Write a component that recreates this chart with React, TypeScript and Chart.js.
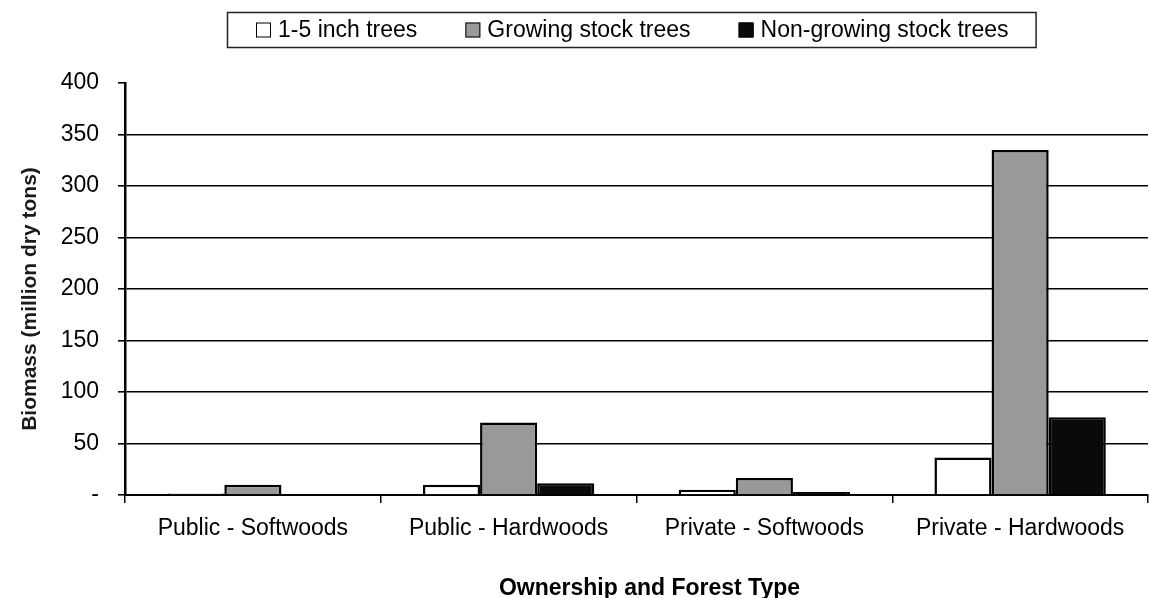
import React, { useEffect, useRef } from "react";
import { Chart, registerables } from "chart.js";

Chart.register(...registerables);

// Biomass by ownership and forest type, million dry tons
const categories = [
  "Public - Softwoods",
  "Public - Hardwoods",
  "Private - Softwoods",
  "Private - Hardwoods",
];
const seriesNames = ["1-5 inch trees", "Growing stock trees", "Non-growing stock trees"];
const smallTrees = [1.5, 10, 5, 36.5];
const growingStock = [10, 70.5, 16.5, 335];
const nonGrowingStock = [0.3, 11.5, 3, 75.5];
const seriesFills = ["#ffffff", "#999999", "#0a0a08"];

const yMin = 0;
const yMax = 400;
const yStep = 50;
const yTitle = "Biomass (million dry tons)";
const xTitle = "Ownership and Forest Type";

const FONT = "Arial, 'Liberation Sans', sans-serif";

// Boxed legend across the top plus both axis titles
const decorations = {
  id: "decorations",
  afterDraw(chart: any) {
    const { ctx, chartArea } = chart;
    ctx.save();

    // legend
    ctx.font = `23px ${FONT}`;
    const sq = 15;
    const gap = 7;
    const spacing = 48;
    const padL = 29;
    const padR = 27;
    const items = chart.data.datasets.map((ds: any) => ({
      label: ds.label as string,
      fill: ds.backgroundColor as string,
    }));
    const widths = items.map((it: any) => ctx.measureText(it.label).width);
    const contentW =
      widths.reduce((a: number, w: number) => a + sq + gap + w, 0) + spacing * (items.length - 1);
    const boxW = contentW + padL + padR;
    const cx = (chartArea.left + chartArea.right) / 2 - 5;
    const boxL = Math.round(cx - boxW / 2);
    const boxT = 12;
    const boxH = 35;
    ctx.fillStyle = "#ffffff";
    ctx.fillRect(boxL, boxT, boxW, boxH);
    ctx.strokeStyle = "#222222";
    ctx.lineWidth = 1.5;
    ctx.strokeRect(boxL + 0.5, boxT + 0.5, boxW, boxH);
    const midY = boxT + boxH / 2 + 0.5;
    let x = boxL + padL;
    items.forEach((it: any, i: number) => {
      ctx.fillStyle = it.fill;
      ctx.fillRect(x, midY - sq / 2, sq, sq);
      ctx.strokeStyle = "#000000";
      ctx.lineWidth = 1;
      ctx.strokeRect(x + 0.5, midY - sq / 2 + 0.5, sq - 1, sq - 1);
      x += sq + gap;
      ctx.fillStyle = "#000000";
      ctx.textAlign = "left";
      ctx.textBaseline = "middle";
      ctx.fillText(it.label, x, midY + 1);
      x += widths[i] + spacing;
    });

    // y axis title (rotated, slightly soft)
    ctx.save();
    ctx.translate(36, (chartArea.top + chartArea.bottom) / 2 + 10);
    ctx.rotate(-Math.PI / 2);
    ctx.font = `bold 21px ${FONT}`;
    ctx.textAlign = "center";
    ctx.textBaseline = "alphabetic";
    ctx.fillStyle = "#1a1a1a";
    ctx.filter = "blur(0.6px)";
    ctx.fillText(yTitle, 0, 0);
    ctx.restore();

    // x axis title
    ctx.font = `bold 23px ${FONT}`;
    ctx.textAlign = "center";
    ctx.textBaseline = "alphabetic";
    ctx.fillStyle = "#000000";
    ctx.fillText(xTitle, (chartArea.left + chartArea.right) / 2 + 13, 595);

    ctx.restore();
  },
};

export default function App() {
  const canvasRef = useRef<HTMLCanvasElement | null>(null);

  useEffect(() => {
    const canvas = canvasRef.current;
    if (!canvas) return;
    const series = [smallTrees, growingStock, nonGrowingStock];
    const chart = new Chart(canvas, {
      type: "bar",
      data: {
        labels: categories,
        datasets: series.map((values, i) => ({
          label: seriesNames[i],
          data: values,
          backgroundColor: seriesFills[i],
          borderColor: "#000000",
          borderWidth: 2.5,
          categoryPercentage: 0.67,
          barPercentage: 1,
        })),
      },
      options: {
        responsive: false,
        animation: false,
        devicePixelRatio: 1,
        layout: { padding: { top: 83, right: 1, bottom: 0, left: 0 } },
        plugins: {
          legend: { display: false },
          title: { display: false },
          tooltip: { enabled: false },
        },
        scales: {
          x: {
            grid: {
              offset: true,
              drawOnChartArea: false,
              drawTicks: true,
              tickLength: 8,
              tickColor: "#000000",
              lineWidth: 1.5,
            },
            border: { display: true, color: "#000000", width: 2 },
            ticks: {
              color: "#000000",
              font: { family: FONT, size: 23 },
              padding: 12,
              maxRotation: 0,
              autoSkip: false,
            },
            afterFit: (scale: any) => {
              scale.height = 103;
            },
          },
          y: {
            min: yMin,
            max: yMax,
            grid: {
              color: (c: any) => (c.tick && c.tick.value === yMax ? "rgba(0,0,0,0)" : "#000000"),
              lineWidth: 1.6,
              drawTicks: true,
              tickLength: 7,
              tickColor: "#000000",
            },
            border: { display: true, color: "#000000", width: 2.5 },
            ticks: {
              stepSize: yStep,
              color: "#000000",
              font: { family: FONT, size: 23 },
              padding: 19,
              callback: (v: any) => (Number(v) === 0 ? "-" : String(v)),
            },
            afterFit: (scale: any) => {
              scale.width = 125;
            },
          },
        },
      },
      plugins: [decorations],
    });
    return () => chart.destroy();
  }, []);

  return (
    <div style={{ position: "absolute", left: 0, top: 0, width: 1149, height: 598, background: "#ffffff" }}>
      <canvas ref={canvasRef} width={1149} height={598} style={{ display: "block" }} />
    </div>
  );
}
